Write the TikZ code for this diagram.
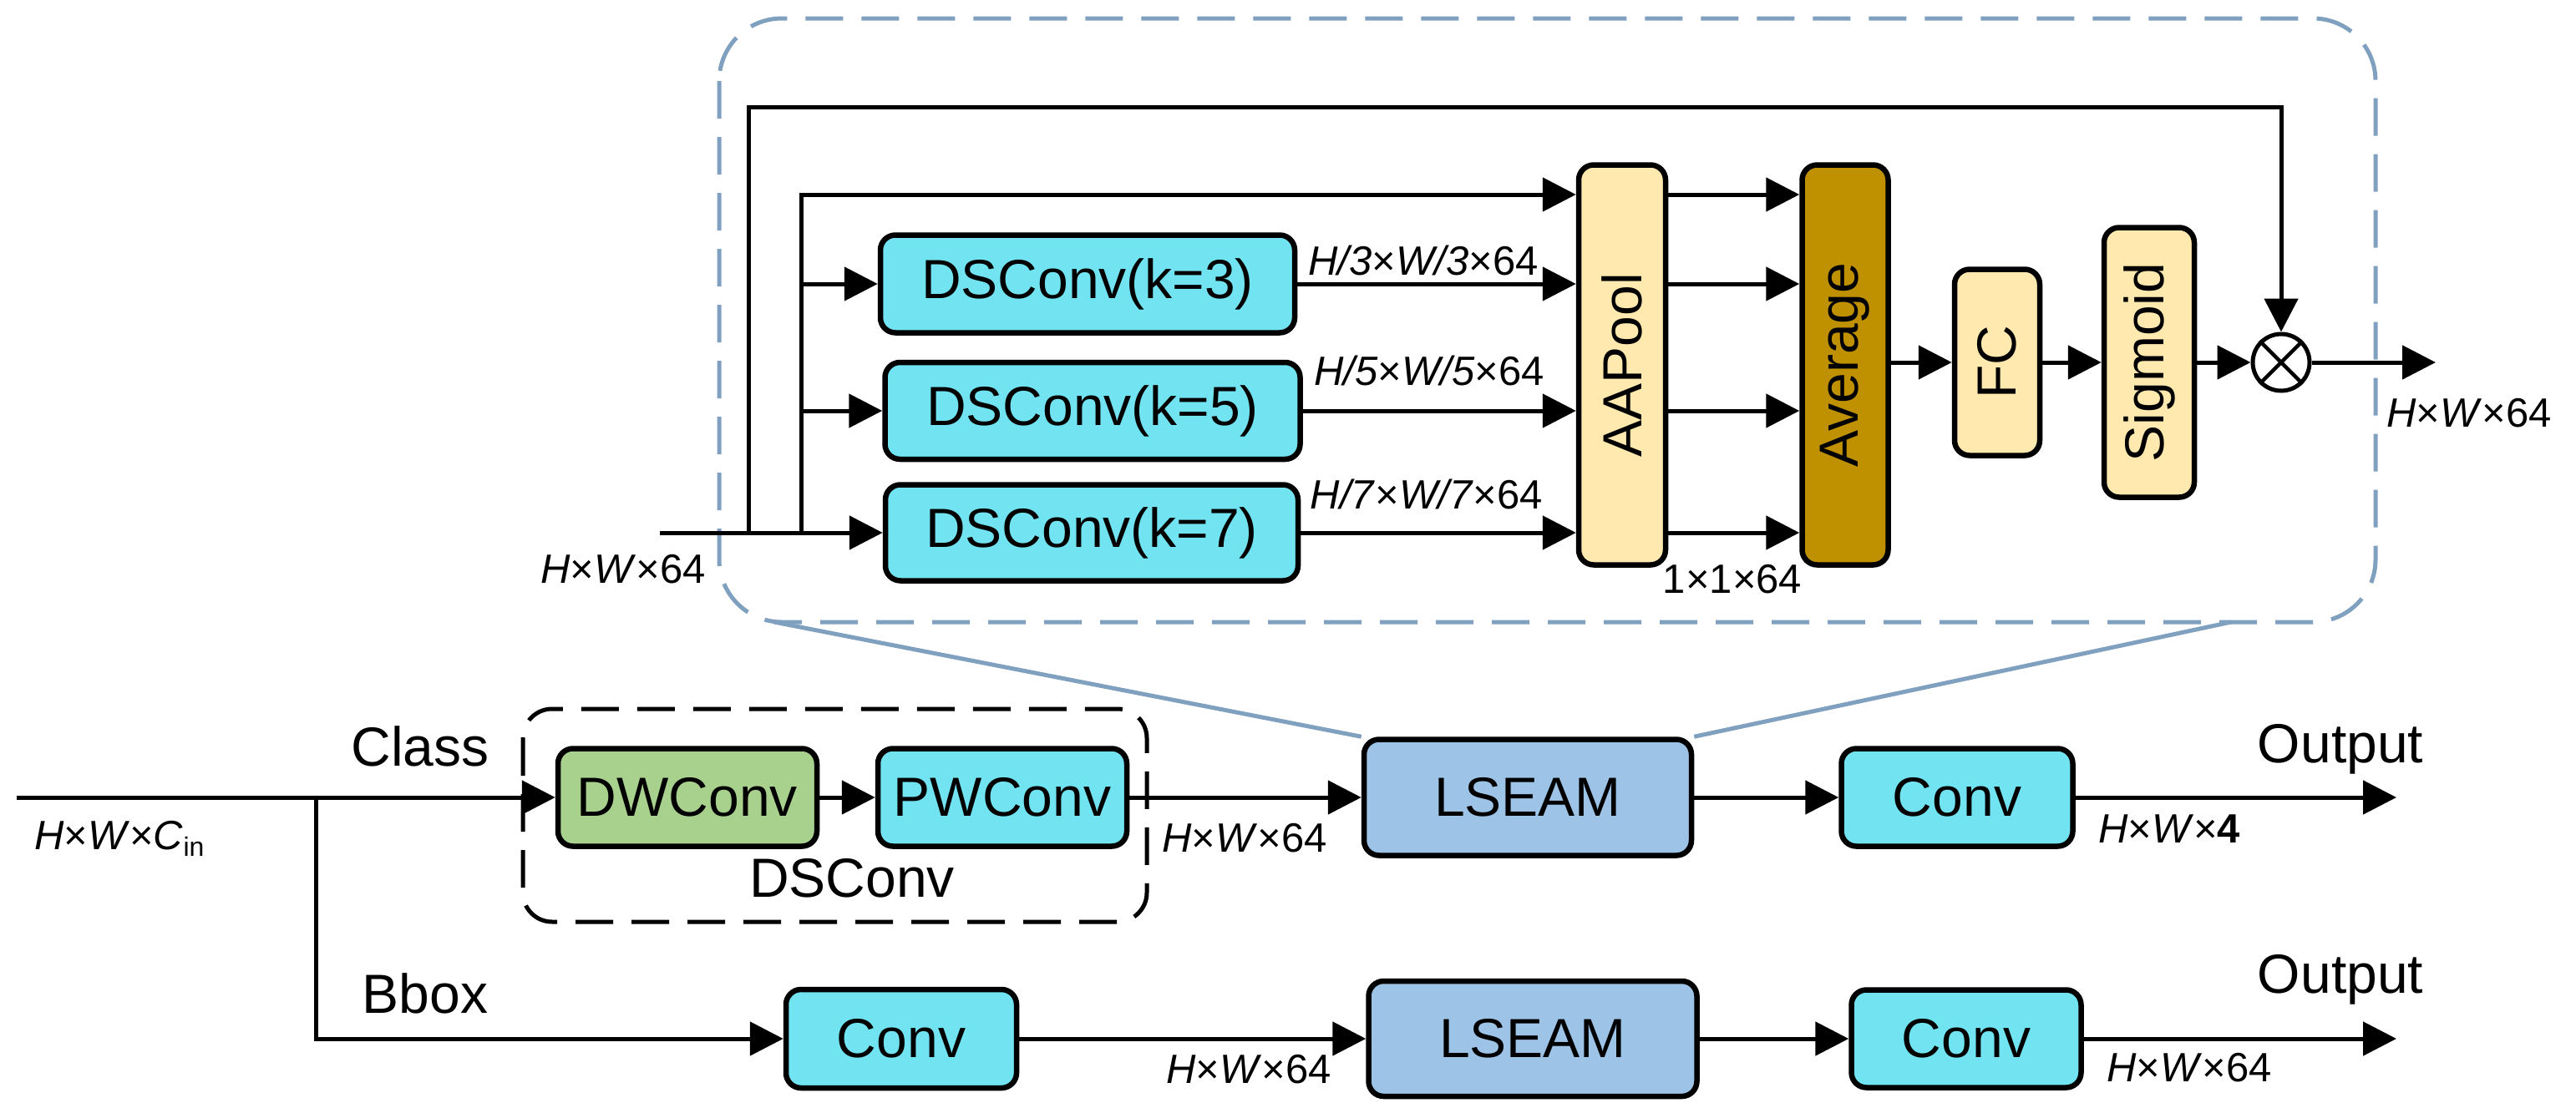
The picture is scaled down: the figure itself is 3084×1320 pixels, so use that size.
\documentclass[tikz,border=0pt]{standalone}
\usepackage{fontspec}
\setmainfont{Liberation Sans}
\usetikzlibrary{arrows.meta,calc}
\definecolor{cyanc}{RGB}{113,227,241}
\definecolor{greenc}{RGB}{169,209,142}
\definecolor{lseamc}{RGB}{157,195,230}
\definecolor{yelc}{RGB}{255,233,175}
\definecolor{goldc}{RGB}{191,144,0}
\definecolor{dashblue}{RGB}{128,160,192}
\newcommand\mainsz{\fontsize{66}{72}\selectfont}
\newcommand\labsz{\fontsize{49}{54}\selectfont}
\begin{document}
\begin{tikzpicture}[x=1pt,y=-1pt,
  box/.style={draw=black, line width=6.5pt, rounded corners=18pt, inner sep=0pt, font=\mainsz},
  cbox/.style={box, fill=cyanc},
  gbox/.style={box, fill=greenc},
  lbox/.style={box, fill=lseamc},
  ybox/.style={box, fill=yelc},
  avbox/.style={box, fill=goldc},
  ln/.style={line width=5pt},
  arr/.style={line width=5pt, -{Triangle[length=40pt,width=40pt]}},
  lbl/.style={font=\labsz, inner sep=0pt},
  txt/.style={font=\mainsz, inner sep=0pt},
  bluedash/.style={draw=dashblue, line width=5pt, dash pattern=on 45pt off 22pt},
  blackdash/.style={draw=black, line width=5pt, dash pattern=on 45pt off 22pt},
  blueline/.style={draw=dashblue, line width=5pt}
]
\useasboundingbox (0,0) rectangle (3084,1320);

% ---------- inset (LSEAM detail) ----------
\draw[bluedash, rounded corners=75pt] (861,22) rectangle (2844,745);

\node[cbox, minimum width=496pt, minimum height=117pt] (k3) at (1302,340) {DSConv(k=3)};
\node[cbox, minimum width=497pt, minimum height=116pt] (k5) at (1308,492) {DSConv(k=5)};
\node[cbox, minimum width=494pt, minimum height=115pt] (k7) at (1307,638) {DSConv(k=7)};
\node[ybox, minimum width=104pt, minimum height=479pt] (AA) at (1942,437) {\rotatebox{90}{AAPool}};
\node[avbox, minimum width=103pt, minimum height=479pt] (Avg) at (2209,437) {\rotatebox{90}{Average}};
\node[ybox, minimum width=102pt, minimum height=223pt] (FC) at (2391,434) {\rotatebox{90}{FC}};
\node[ybox, minimum width=108pt, minimum height=323pt] (Sig) at (2573,434) {\rotatebox{90}{Sigmoid}};
\node[circle, draw=black, line width=5pt, minimum size=68pt, inner sep=0pt] (mul) at (2731,434) {};
\draw[line width=4.5pt] (mul.north east) -- (mul.south west);
\draw[line width=4.5pt] (mul.north west) -- (mul.south east);

\coordinate (in0) at (790,638);
\coordinate (s1) at (896,638);
\coordinate (s2) at (959,638);
\coordinate (t1) at (896,128);
\coordinate (t2) at (2731,128);
\coordinate (b0) at (959,233);
\coordinate (o1) at (2916,434);

\draw[arr] (in0) -- (k7.west);
\draw[arr] (s1) -- (t1) -- (t2) -- (mul.north);
\draw[arr] (s2) -- (b0) -- (AA.west |- b0);
\draw[arr] (s2 |- k3.west) -- (k3.west);
\draw[arr] (s2 |- k5.west) -- (k5.west);
\draw[arr] (k3.east) -- (AA.west |- k3.east);
\draw[arr] (k5.east) -- (AA.west |- k5.east);
\draw[arr] (k7.east) -- (AA.west |- k7.east);
\draw[arr] (AA.east |- b0) -- (Avg.west |- b0);
\draw[arr] (AA.east |- k3.east) -- (Avg.west |- k3.east);
\draw[arr] (AA.east |- k5.east) -- (Avg.west |- k5.east);
\draw[arr] (AA.east |- k7.east) -- (Avg.west |- k7.east);
\draw[arr] (Avg.east |- FC.west) -- (FC.west);
\draw[arr] (FC) -- (Sig);
\draw[arr] (Sig) -- (mul);
\draw[arr] (mul) -- (o1);

\node[lbl] (lin) at (746,682) {\textit{H}×\textit{W}×64};
\node[lbl] (l3) at (1704,312) {\textit{H/3}×\textit{W/3}×64};
\node[lbl] (l5) at (1711,444) {\textit{H/5}×\textit{W/5}×64};
\node[lbl] (l7) at (1708,592) {\textit{H/7}×\textit{W/7}×64};
\node[lbl] (l11) at (2074,694) {1×1×64};
\node[lbl] (lout) at (2956,495) {\textit{H}×\textit{W}×64};

% ---------- main head ----------
\draw[blackdash, rounded corners=35pt] (626,849) rectangle (1373,1104);

\node[gbox, minimum width=310pt, minimum height=117pt] (dw) at (823,955) {DWConv};
\node[cbox, minimum width=298pt, minimum height=117pt] (pw) at (1200,955) {PWConv};
\node[lbox, minimum width=392pt, minimum height=139pt] (ls1) at (1829,955) {LSEAM};
\node[cbox, minimum width=277pt, minimum height=117pt] (cv1) at (2343,955) {Conv};

\node[cbox, minimum width=276pt, minimum height=118pt] (c1) at (1079,1244) {Conv};
\node[lbox, minimum width=393pt, minimum height=138pt] (ls2) at (1835,1244) {LSEAM};
\node[cbox, minimum width=275pt, minimum height=117pt] (cv2) at (2354,1244) {Conv};

\coordinate (i0) at (20,955);
\coordinate (br) at (378,955);
\coordinate (o2) at (2869,955);
\coordinate (o3) at (2869,1244);
\coordinate (bl) at (927,745);
\coordinate (brc) at (2671,745);

\draw[arr] (i0) -- (dw.west);
\draw[arr] (br) |- (c1.west);
\draw[arr] (dw) -- (pw);
\draw[arr] (pw) -- (ls1);
\draw[arr] (ls1) -- (cv1);
\draw[arr] (cv1) -- (o2);
\draw[arr] (c1) -- (ls2);
\draw[arr] (ls2) -- (cv2);
\draw[arr] (cv2) -- (o3);

\draw[blueline] (bl) -- (ls1.north west);
\draw[blueline] (brc) -- (ls1.north east);

\node[txt] (cls) at (503,894) {Class};
\node[txt] (bbx) at (509,1190) {Bbox};
\node[txt] (dsl) at (1020,1052) {DSConv};
\node[txt] (out1) at (2802,897) {Output};
\node[txt] (out2) at (2802,1173) {Output};
\node[lbl, anchor=west] (lcin) at (41,1004) {\textit{H}×\textit{W}×\textit{C}\raisebox{-0.3ex}{\fontsize{32}{32}\selectfont in}};
\node[lbl] (l64a) at (1490,1004) {\textit{H}×\textit{W}×64};
\node[lbl] (l4) at (2597,993) {\textit{H}×\textit{W}×\textbf{4}};
\node[lbl] (l64b) at (1495,1281) {\textit{H}×\textit{W}×64};
\node[lbl] (l64c) at (2621,1279) {\textit{H}×\textit{W}×64};
\end{tikzpicture}
\end{document}
